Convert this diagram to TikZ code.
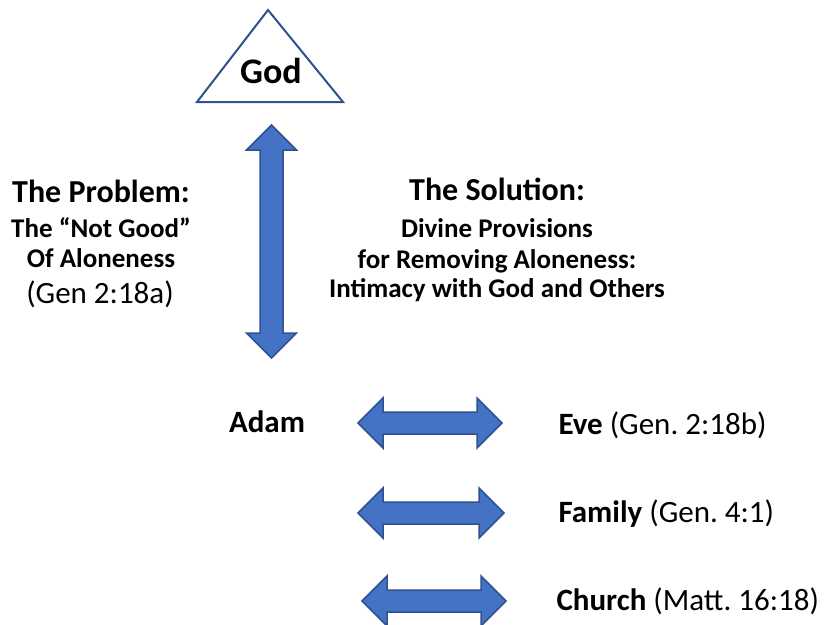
\documentclass[tikz,border=0pt]{standalone}
\usepackage{fontspec}
\setmainfont{Carlito}
\frenchspacing
\definecolor{arrowblue}{HTML}{4472C4}
\definecolor{edgeblue}{HTML}{2F528F}
\tikzset{
  godtri/.style={fill=white, draw=edgeblue, line width=2pt, line join=miter},
  blockarrow/.style={fill=arrowblue, draw=edgeblue, line width=1.5pt, line join=miter},
  godlabel/.style={font=\bfseries\fontsize{36}{40}\selectfont, anchor=base},
  headline/.style={font=\bfseries\fontsize{32}{36}\selectfont, anchor=base},
  subline/.style={font=\bfseries\fontsize{27}{30}\selectfont, anchor=base},
  refline/.style={font=\fontsize{31}{34}\selectfont, anchor=base},
  itemlabel/.style={font=\fontsize{31}{34}\selectfont, anchor=base west},
}
% horizontal double block arrow: x1, x2, y
\newcommand{\harrow}[3]{%
  \draw[blockarrow] (#1,#3) -- ({#1+25},{#3-25}) -- ({#1+25},{#3-11}) -- ({#2-25},{#3-11})
    -- ({#2-25},{#3-25}) -- (#2,#3) -- ({#2-25},{#3+25}) -- ({#2-25},{#3+11})
    -- ({#1+25},{#3+11}) -- ({#1+25},{#3+25}) -- cycle;}
% vertical double block arrow: x, y1, y2
\newcommand{\varrow}[3]{%
  \draw[blockarrow] (#1,#2) -- ({#1+25},{#2+25}) -- ({#1+11.5},{#2+25}) -- ({#1+11.5},{#3-25})
    -- ({#1+25},{#3-25}) -- (#1,#3) -- ({#1-25},{#3-25}) -- ({#1-11.5},{#3-25})
    -- ({#1-11.5},{#2+25}) -- ({#1-25},{#2+25}) -- cycle;}
\begin{document}
\begin{tikzpicture}[x=1pt, y=-1pt]
\useasboundingbox (0,0) rectangle (827,624);
% God
\draw[godtri] (268,10) -- (343,102) -- (197,102) -- cycle;
\node[godlabel] (god) at (271,83) {God};
% arrows
\varrow{271.5}{125}{358}
\harrow{358}{502}{423}
\harrow{358}{504}{513}
\harrow{362}{506}{601}
% the problem
\node[headline] (problem) at (101,202) {The Problem:};
\node[subline] (notgood) at (101,237) {The “Not Good”};
\node[subline] (alone) at (101,267) {Of Aloneness};
\node[refline] (genA) at (100,303) {(Gen 2:18a)};
% the solution
\node[headline] (solution) at (497,200) {The Solution:};
\node[subline] (divine) at (497,237) {Divine Provisions};
\node[subline] (removing) at (497,268) {for Removing Aloneness:};
\node[subline] (intimacy) at (497,297) {Intimacy with God and Others};
% relations
\node[refline] (adam) at (267,432) {\textbf{Adam}};
\node[itemlabel] (eve) at (555,434) {\textbf{Eve} (Gen. 2:18b)};
\node[itemlabel] (family) at (555,522) {\textbf{Family} (Gen. 4:1)};
\node[itemlabel] (church) at (553,610) {\textbf{Church} (Matt. 16:18)};
\end{tikzpicture}
\end{document}
